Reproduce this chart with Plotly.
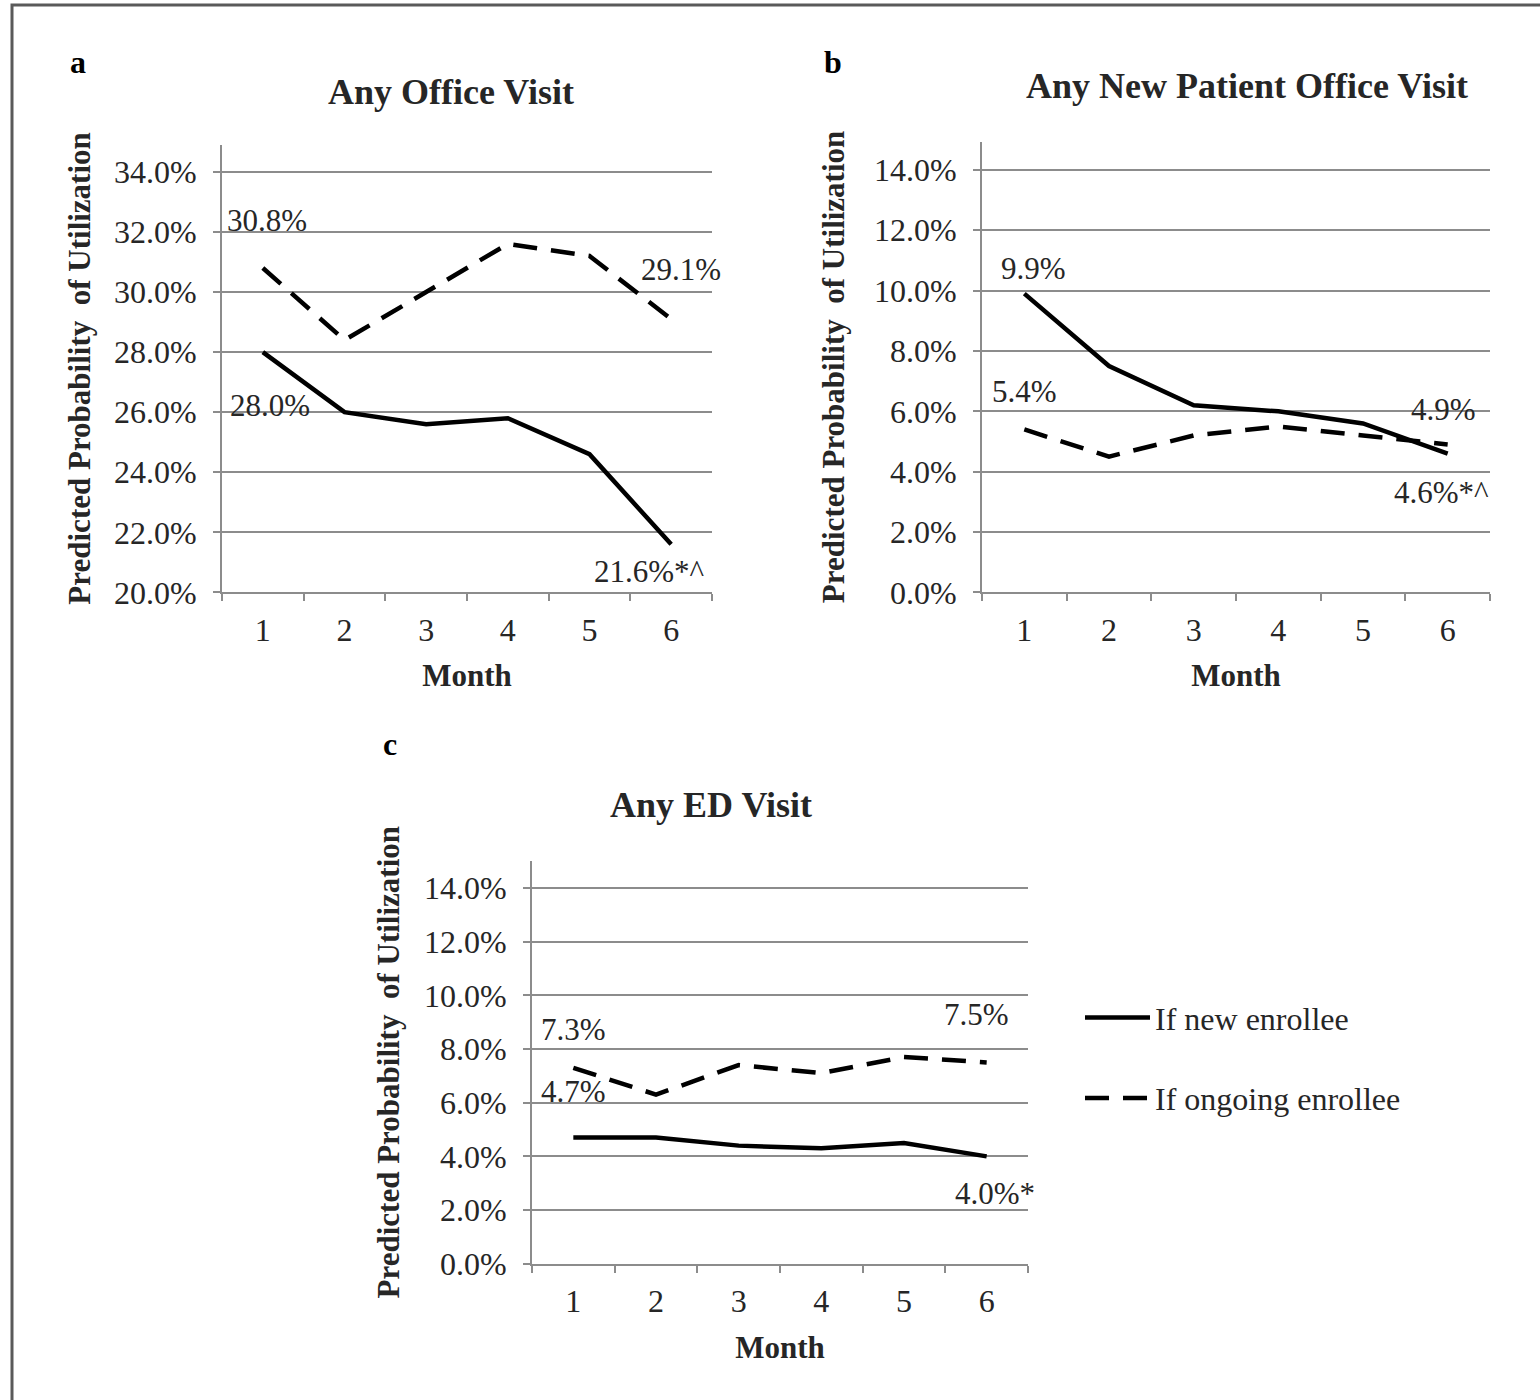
import plotly.graph_objects as go

W, H = 1540, 1400
SY = 1.012  # vertical calibration between measured reference pixels and page pixels

months = [1, 2, 3, 4, 5, 6]
month_ticks = ["1", "2", "3", "4", "5", "6"]

# Panel a: Any Office Visit (%)
office_new = [28.0, 26.0, 25.6, 25.8, 24.6, 21.6]
office_ongoing = [30.8, 28.4, 30.0, 31.6, 31.2, 29.1]
# Panel b: Any New Patient Office Visit (%)
newpt_new = [9.9, 7.5, 6.2, 6.0, 5.6, 4.6]
newpt_ongoing = [5.4, 4.5, 5.2, 5.5, 5.2, 4.9]
# Panel c: Any ED Visit (%)
ed_new = [4.7, 4.7, 4.4, 4.3, 4.5, 4.0]
ed_ongoing = [7.3, 6.3, 7.4, 7.1, 7.7, 7.5]

yticks_a = [20, 22, 24, 26, 28, 30, 32, 34]
yticks_bc = [0, 2, 4, 6, 8, 10, 12, 14]

series_names = ["If new enrollee", "If ongoing enrollee"]

FONT = "Liberation Serif"
TXT = "#262626"
GRID = "#8c8c8c"


def px_x(p):
    return p / W


def px_y(p):
    return 1 - p * SY / H


panels = [
    dict(key="", new=office_new, ong=office_ongoing, yticks=yticks_a, yr=[20, 34.9],
         xd=[222, 712], yd=[145, 593], title="Any Office Visit", letter="a",
         title_xy=(451, 92), letter_xy=(78, 62), ytitle_x=80,
         labels=[(1, "ong", "30.8%", 4, 48), (1, "new", "28.0%", 7, -53),
                 (6, "ong", "29.1%", 10, 50), (6, "new", "21.6%*^", -22, -27)]),
    dict(key="2", new=newpt_new, ong=newpt_ongoing, yticks=yticks_bc, yr=[0, 14.93],
         xd=[982, 1490], yd=[142, 593], title="Any New Patient Office Visit", letter="b",
         title_xy=(1247, 86), letter_xy=(833, 62), ytitle_x=833,
         labels=[(1, "new", "9.9%", 9, 25), (1, "ong", "5.4%", 0, 38),
                 (6, "ong", "4.9%", -4, 35), (6, "new", "4.6%*^", -6, -39)]),
    dict(key="3", new=ed_new, ong=ed_ongoing, yticks=yticks_bc, yr=[0, 15.0],
         xd=[532, 1028], yd=[862, 1265], title="Any ED Visit", letter="c",
         title_xy=(711, 806), letter_xy=(390, 745), ytitle_x=388,
         labels=[(1, "ong", "7.3%", 0, 38), (1, "new", "4.7%", 0, 46),
                 (6, "ong", "7.5%", -10, 48), (6, "new", "4.0%*", 8, -37)]),
]

fig = go.Figure()
annotations = []

for i, p in enumerate(panels):
    xa = "x" + p["key"]
    ya = "y" + p["key"]
    show = (i == 2)
    fig.add_trace(go.Scatter(
        x=months, y=p["new"], mode="lines", xaxis=xa, yaxis=ya,
        name=series_names[0], legendgroup="new", showlegend=show,
        line=dict(color="black", width=4.5), hoverinfo="skip"))
    fig.add_trace(go.Scatter(
        x=months, y=p["ong"], mode="lines", xaxis=xa, yaxis=ya,
        name=series_names[1], legendgroup="ong", showlegend=show,
        line=dict(color="black", width=4.5, dash="24px,14px"), hoverinfo="skip"))

    xname = "xaxis" + p["key"]
    yname = "yaxis" + p["key"]
    fig.layout[xname] = dict(
        domain=[px_x(p["xd"][0]), px_x(p["xd"][1])], range=[0.5, 6.5],
        anchor=ya, tickmode="array", tickvals=months, ticktext=month_ticks,
        ticks="", showgrid=False, zeroline=False,
        showline=True, linecolor=GRID, linewidth=2,
        tickfont=dict(family=FONT, size=32, color=TXT),
        ticklabelstandoff=8,
        minor=dict(tickmode="array", tickvals=[0.5, 1.5, 2.5, 3.5, 4.5, 5.5, 6.5],
                   ticks="outside", ticklen=7, tickwidth=2, tickcolor=GRID,
                   showgrid=False),
        title=dict(text="<b>Month</b>", font=dict(family=FONT, size=31, color=TXT),
                   standoff=18),
    )
    fig.layout[yname] = dict(
        domain=[px_y(p["yd"][1]), px_y(p["yd"][0])], range=p["yr"],
        anchor=xa, tickmode="array", tickvals=p["yticks"],
        ticktext=["%.1f%%" % v for v in p["yticks"]],
        ticks="outside", ticklen=7, tickwidth=2, tickcolor=GRID,
        showgrid=True, gridcolor=GRID, gridwidth=2, zeroline=False,
        showline=True, linecolor=GRID, linewidth=2,
        tickfont=dict(family=FONT, size=32, color=TXT),
        ticklabelstandoff=10,
    )

    ymid = (p["yd"][0] + p["yd"][1]) / 2
    annotations.append(dict(
        text="<b>Predicted Probability  of Utilization</b>", textangle=-90,
        x=px_x(p["ytitle_x"]), y=px_y(ymid), xref="paper", yref="paper",
        xanchor="center", yanchor="middle", showarrow=False,
        font=dict(family=FONT, size=31, color=TXT)))
    annotations.append(dict(
        text="<b>" + p["title"] + "</b>", x=px_x(p["title_xy"][0]), y=px_y(p["title_xy"][1]),
        xref="paper", yref="paper", xanchor="center", yanchor="middle",
        showarrow=False, font=dict(family=FONT, size=36, color=TXT)))
    annotations.append(dict(
        text="<b>" + p["letter"] + "</b>", x=px_x(p["letter_xy"][0]), y=px_y(p["letter_xy"][1]),
        xref="paper", yref="paper", xanchor="center", yanchor="middle",
        showarrow=False, font=dict(family=FONT, size=32, color="black")))
    for (m, which, txt, dx, dy) in p["labels"]:
        vals = p["new"] if which == "new" else p["ong"]
        annotations.append(dict(
            text=txt, x=m, y=vals[m - 1], xref=xa, yref=ya,
            xanchor="center", yanchor="middle", xshift=dx, yshift=dy,
            showarrow=False, font=dict(family=FONT, size=31, color=TXT)))

fig.update_layout(
    width=W, height=H, margin=dict(l=0, r=0, t=0, b=0),
    paper_bgcolor="white", plot_bgcolor="white",
    annotations=annotations,
    showlegend=True,
    legend=dict(x=px_x(1080), y=1 - 1003 / H, xanchor="left", yanchor="top",
                font=dict(family=FONT, size=32, color=TXT),
                tracegroupgap=36, bgcolor="rgba(0,0,0,0)", itemwidth=65),
    shapes=[dict(type="rect", xref="paper", yref="paper",
                 x0=px_x(12), x1=px_x(1560), y0=-0.05, y1=1 - 5 / H,
                 line=dict(color="#5a5a5a", width=3), layer="below")],
)

fig.write_html(
    "out.html",
    config={"displayModeBar": False},
    post_script=("document.documentElement.style.margin='0';"
                 "document.body.style.margin='0';"),
)
